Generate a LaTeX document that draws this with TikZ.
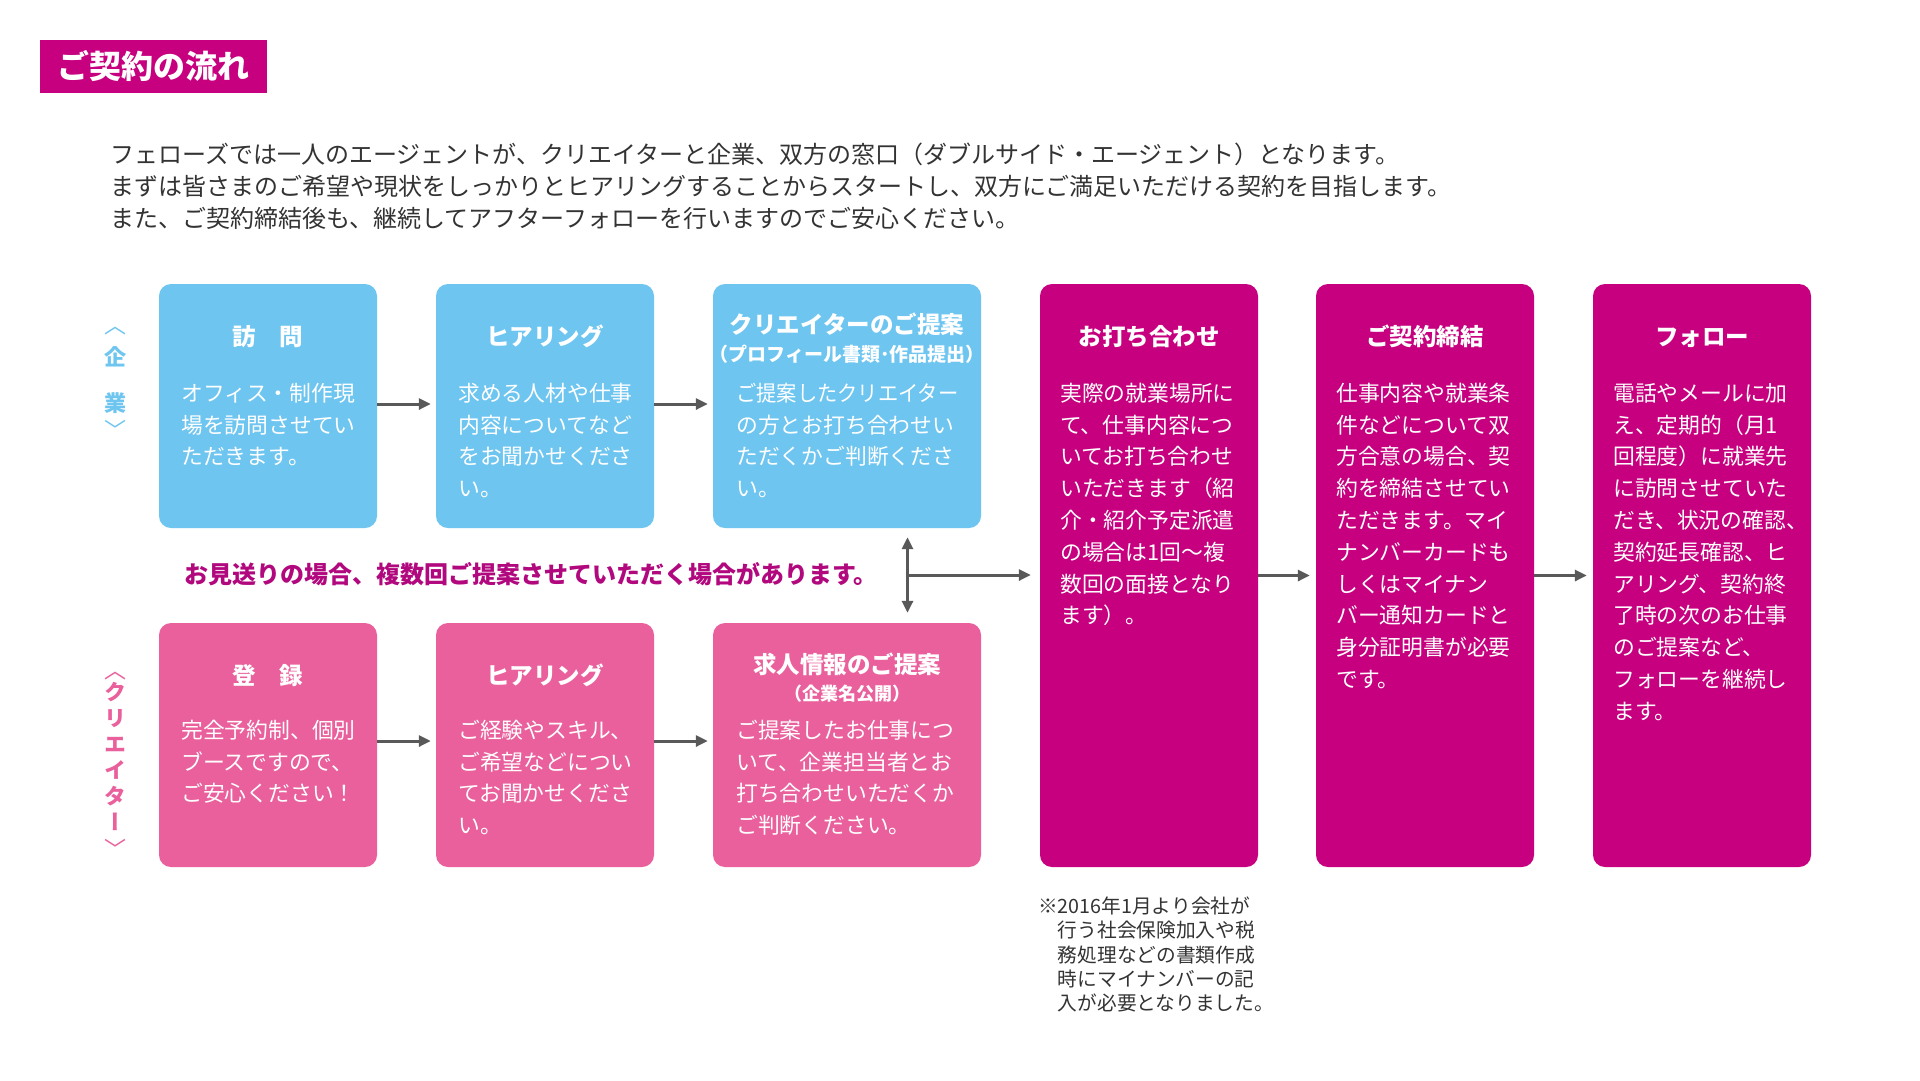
\documentclass[tikz,border=0pt]{standalone}
\usepackage{fontspec}
\usepackage{graphicx}
\setmainfont{Noto Sans CJK JP}
\newfontfamily\jpv{Noto Sans CJK JP}[RawFeature=+vert]
\usetikzlibrary{arrows.meta,calc}
\definecolor{cblue}{HTML}{6DC5F0}
\definecolor{cpink}{HTML}{E9609C}
\definecolor{cmag}{HTML}{C6007E}
\definecolor{cnote}{HTML}{B1087E}
\definecolor{carrow}{HTML}{595959}
\definecolor{ctext}{HTML}{333333}
\newcommand{\bodytext}[1]{\parbox[t]{260pt}{\fontsize{21.8pt}{31.8pt}\selectfont #1}}
\newcommand{\vstack}[1]{\parbox[t]{40pt}{\centering\jpv\fontsize{22pt}{26pt}\selectfont\lineskiplimit=-1000pt #1}}
\begin{document}
\begin{tikzpicture}[x=1pt,y=-1pt,
  box/.style={rounded corners=12pt, inner sep=0pt, minimum width=218pt, minimum height=244pt},
  widebox/.style={box, minimum width=268pt},
  tallbox/.style={box, fill=cmag, minimum height=583pt},
  body/.style={anchor=base west, inner sep=0pt, text=white},
  ttl/.style={anchor=base, inner sep=0pt, text=white, font=\fontsize{23.5pt}{23.5pt}\selectfont\bfseries},
  subttl/.style={anchor=base, inner sep=0pt, text=white, font=\fontsize{18pt}{18pt}\selectfont\bfseries},
  arr/.style={draw=carrow, line width=3pt, -{Triangle[length=12pt,width=11pt]}},
  darr/.style={draw=carrow, line width=3pt, {Triangle[length=12pt,width=11pt]}-{Triangle[length=12pt,width=11pt]}},
  side/.style={anchor=base, inner sep=0pt}
]
\fill[white] (0,0) rectangle (1920,1080);
\useasboundingbox (0,0) rectangle (1920,1080);

% title
\node[fill=cmag, minimum width=227pt, minimum height=53pt, inner sep=0pt, text=white,
  font=\fontsize{32pt}{32pt}\selectfont\bfseries] (title) at (153.5,66.5) {ご契約の流れ};

% intro
\node[anchor=base west, inner sep=0pt, text=ctext] (intro) at (110,163.3)
 {\parbox[t]{1400pt}{\fontsize{24pt}{31.85pt}\selectfont
 フェローズでは一人のエージェントが、クリエイターと企業、双方の窓口（ダブルサイド・エージェント）となります。\\
 まずは皆さまのご希望や現状をしっかりとヒアリングすることからスタートし、双方にご満足いただける契約を目指します。\\
 また、ご契約締結後も、継続してアフターフォローを行いますのでご安心ください。}};

% boxes
\node[box, fill=cblue] (b1) at (268,406) {};
\node[box, fill=cblue] (b2) at (545,406) {};
\node[widebox, fill=cblue] (b3) at (847,406) {};
\node[box, fill=cpink] (p1) at (268,745) {};
\node[box, fill=cpink] (p2) at (545,745) {};
\node[widebox, fill=cpink] (p3) at (847,745) {};
\node[tallbox] (m1) at (1149,575.5) {};
\node[tallbox] (m2) at (1425,575.5) {};
\node[tallbox] (m3) at (1702,575.5) {};

% titles
\node[ttl] (b1t) at (268,345.4) {訪　問};
\node[ttl] (b2t) at (545,345.4) {ヒアリング};
\node[ttl] (b3t) at (847,333.2) {クリエイターのご提案};
\node[subttl, font=\fontsize{19pt}{19pt}\selectfont\bfseries] (b3s) at (847,361.8) {（プロフィール書類･作品提出）};
\node[ttl] (p1t) at (268,684.7) {登　録};
\node[ttl] (p2t) at (545,684.7) {ヒアリング};
\node[ttl] (p3t) at (847,673.7) {求人情報のご提案};
\node[subttl] (p3s) at (847,700.8) {（企業名公開）};
\node[ttl] (m1t) at (1149,345.4) {お打ち合わせ};
\node[ttl] (m2t) at (1425,345.4) {ご契約締結};
\node[ttl] (m3t) at (1702,345.4) {フォロー};

% body texts
\node[body] (b1b) at (181,401.3) {\bodytext{オフィス・制作現\\場を訪問させてい\\ただきます。}};
\node[body] (b2b) at (458,401.3) {\bodytext{求める人材や仕事\\内容についてなど\\をお聞かせくださ\\い。}};
\node[body] (b3b) at (736,401.3) {\bodytext{\scalebox{0.93}[1]{ご提案したクリエイター}\\の方とお打ち合わせい\\ただくかご判断くださ\\い。}};
\node[body] (p1b) at (181,738.3) {\bodytext{完全予約制、個別\\ブースですので、\\ご安心ください！}};
\node[body] (p2b) at (458,738.3) {\bodytext{ご経験やスキル、\\ご希望などについ\\てお聞かせくださ\\い。}};
\node[body] (p3b) at (736,738.3) {\bodytext{ご提案したお仕事につ\\いて、企業担当者とお\\打ち合わせいただくか\\ご判断ください。}};
\node[body] (m1b) at (1060,401.3) {\bodytext{実際の就業場所に\\て、仕事内容につ\\いてお打ち合わせ\\いただきます（紹\\介・紹介予定派遣\\の場合は1回〜複\\数回の面接となり\\ます）。}};
\node[body] (m2b) at (1336,401.3) {\bodytext{仕事内容や就業条\\件などについて双\\方合意の場合、契\\約を締結させてい\\ただきます。マイ\\ナンバーカードも\\しくはマイナン\\バー通知カードと\\身分証明書が必要\\です。}};
\node[body] (m3b) at (1613,401.3) {\bodytext{電話やメールに加\\え、定期的（月1\\回程度）に就業先\\に訪問させていた\\だき、状況の確認、\\契約延長確認、ヒ\\アリング、契約終\\了時の次のお仕事\\のご提案など、\\フォローを継続し\\ます。}};

% side labels (vertical)
\node[side, text=cblue] (sidec) at (115,333.4)
 {\vstack{〈\\[6pt]\textbf{企}\\[20pt]\textbf{業}\\[0.9pt]〉}};
\node[side, text=cpink] (sidep) at (115,678.4)
 {\vstack{〈\\[-4pt]\textbf{ク}\\\textbf{リ}\\\textbf{エ}\\\textbf{イ}\\\textbf{タ}\\\textbf{ー}\\[0.9pt]〉}};

% note
\node[anchor=base west, inner sep=0pt, text=cnote, font=\fontsize{24pt}{24pt}\selectfont\bfseries]
 (note) at (184,583.3) {お見送りの場合、複数回ご提案させていただく場合があります。};

% footnote
\node[anchor=base west, inner sep=0pt, text=ctext] (foot) at (1038,913.4)
 {\parbox[t]{300pt}{\fontsize{19.7pt}{24.3pt}\selectfont
 ※2016年1月より会社が\\
 　行う社会保険加入や税\\
 　務処理などの書類作成\\
 　時にマイナンバーの記\\
 　入が必要となりました。}};

% arrows
\draw[arr, shorten >=5pt] ([yshift=2pt]b1.east) -- ([yshift=2pt]b2.west);
\draw[arr, shorten >=5pt] ([yshift=2pt]b2.east) -- ([yshift=2pt]b3.west);
\draw[arr, shorten >=5pt] ([yshift=4pt]p1.east) -- ([yshift=4pt]p2.west);
\draw[arr, shorten >=5pt] ([yshift=4pt]p2.east) -- ([yshift=4pt]p3.west);
\draw[arr, shorten >=6pt] (m1.east) -- (m2.west);
\draw[arr, shorten >=6pt] (m2.east) -- (m3.west);

\coordinate (vt) at ([xshift=60.5pt,yshift=-9pt]b3.south);
\coordinate (vb) at ([xshift=60.5pt,yshift=10pt]p3.north);
\coordinate (vm) at ($(vt)!0.5!(vb)$);
\draw[darr] (vt) -- (vb);
\draw[arr, shorten >=9pt, shorten <=-1.5pt] (vm) -- (m1.west |- vm);
\end{tikzpicture}
\end{document}
